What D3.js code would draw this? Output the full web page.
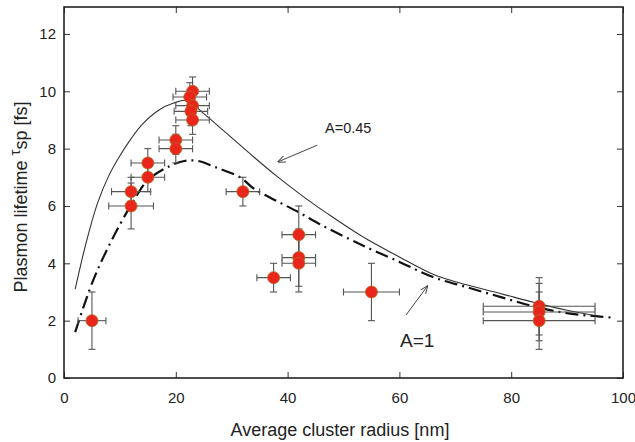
<!DOCTYPE html>
<html><head><meta charset="utf-8">
<script src="https://cdn.jsdelivr.net/npm/d3@7"></script>
<style>body{margin:0;background:#fff}svg{display:block}text{font-family:"Liberation Sans",Arial,sans-serif;fill:#222}</style>
</head><body><svg id="c" width="635" height="442"></svg>
<script>
const xs   = [5, 12, 12, 15, 15, 20, 20, 23, 22.5, 23, 22.7, 23, 32, 37.5, 42, 42, 42, 55, 85, 85, 85];
const ys   = [2.0, 6.5, 6.0, 7.5, 7.0, 8.3, 8.0, 10.0, 9.8, 9.5, 9.3, 9.0, 6.5, 3.5, 5.0, 4.2, 4.0, 3.0, 2.5, 2.3, 2.0];
const xErr = [2.5, 3.5, 4, 3, 3, 3, 3, 3, 3, 3, 3, 3, 3, 3, 3, 3, 3, 5, 10, 10, 10];
const yErr = [1.0, 0.5, 0.8, 0.5, 0.5, 0.5, 0.5, 0.5, 0.5, 0.5, 0.5, 0.5, 0.5, 0.5, 1.0, 1.0, 1.0, 1.0, 1.0, 1.0, 1.0];

const solidX = [2, 4, 6, 8, 10, 12, 14, 17, 19.5, 22, 25, 29, 34, 38, 43, 47, 53, 60, 66, 72, 78, 84, 90, 96];
const solidY = [3.1, 4.75, 6.1, 7.05, 7.75, 8.35, 8.85, 9.35, 9.58, 9.68, 9.22, 8.55, 7.7, 7.05, 6.3, 5.75, 4.98, 4.22, 3.62, 3.25, 2.95, 2.64, 2.36, 2.14];
const dashX  = [2, 5, 7.5, 10, 12.5, 15, 19, 21.5, 24, 27, 31.5, 34, 38, 42, 46, 51, 54, 60, 66, 72, 78, 84, 90, 98.6];
const dashY  = [1.6, 3.3, 4.4, 5.35, 6.2, 6.9, 7.4, 7.57, 7.57, 7.36, 7.0, 6.6, 6.18, 5.78, 5.34, 4.85, 4.57, 4.05, 3.52, 3.17, 2.83, 2.5, 2.26, 2.1];

const xTicks = [0, 20, 40, 60, 80, 100];
const yTicks = [0, 2, 4, 6, 8, 10, 12];

const svg = d3.select("#c");
const L = 64, R = 623, T = 7, B = 378;
const x = d3.scaleLinear().domain([0, 100]).range([L, R]);
const y = d3.scaleLinear().domain([0, 12.94]).range([B, T]);

// axes (inward ticks)
const ax = svg.append("g");
ax.append("g").attr("transform", `translate(0,${B})`)
  .call(d3.axisBottom(x).tickValues(xTicks).tickSizeInner(-6).tickSizeOuter(0).tickPadding(14))
  .call(g => { g.select(".domain").remove(); g.selectAll("text").attr("font-size", 15).attr("fill", "#222"); g.selectAll("line").attr("stroke", "#333"); });
ax.append("g").attr("transform", `translate(0,${T})`)
  .call(d3.axisTop(x).tickValues(xTicks).tickSizeInner(-6).tickSizeOuter(0).tickFormat(""))
  .call(g => { g.select(".domain").remove(); g.selectAll("line").attr("stroke", "#333"); });
ax.append("g").attr("transform", `translate(${L},0)`)
  .call(d3.axisLeft(y).tickValues(yTicks).tickSizeInner(-6).tickSizeOuter(0).tickPadding(8))
  .call(g => { g.select(".domain").remove(); g.selectAll("text").attr("font-size", 15).attr("fill", "#222"); g.selectAll("line").attr("stroke", "#333"); });
ax.append("g").attr("transform", `translate(${R},0)`)
  .call(d3.axisRight(y).tickValues(yTicks).tickSizeInner(-6).tickSizeOuter(0).tickFormat(""))
  .call(g => { g.select(".domain").remove(); g.selectAll("line").attr("stroke", "#333"); });
svg.append("rect").attr("x", L).attr("y", T).attr("width", R - L).attr("height", B - T)
  .attr("fill", "none").attr("stroke", "#222").attr("stroke-width", 1.6);

// curves
const line = d3.line().x(d => x(d[0])).y(d => y(d[1])).curve(d3.curveCatmullRom.alpha(0.5));
svg.append("path").attr("d", line(d3.zip(solidX, solidY)))
  .attr("fill", "none").attr("stroke", "#333").attr("stroke-width", 1.1);
svg.append("path").attr("d", line(d3.zip(dashX, dashY)))
  .attr("fill", "none").attr("stroke", "#111").attr("stroke-width", 2.2)
  .attr("stroke-dasharray", "13,5,2,5");

// error bars
const eb = svg.append("g").attr("stroke", "#555").attr("stroke-width", 1.1);
const cap = 3.5;
xs.forEach((xv, i) => {
  const cx = x(xv), cy = y(ys[i]);
  const x0 = x(xv - xErr[i]), x1 = x(xv + xErr[i]);
  const y0 = y(ys[i] - yErr[i]), y1 = y(ys[i] + yErr[i]);
  eb.append("line").attr("x1", x0).attr("x2", x1).attr("y1", cy).attr("y2", cy);
  eb.append("line").attr("x1", x0).attr("x2", x0).attr("y1", cy - cap).attr("y2", cy + cap);
  eb.append("line").attr("x1", x1).attr("x2", x1).attr("y1", cy - cap).attr("y2", cy + cap);
  eb.append("line").attr("x1", cx).attr("x2", cx).attr("y1", y0).attr("y2", y1);
  eb.append("line").attr("x1", cx - cap).attr("x2", cx + cap).attr("y1", y0).attr("y2", y0);
  eb.append("line").attr("x1", cx - cap).attr("x2", cx + cap).attr("y1", y1).attr("y2", y1);
});

// markers
svg.append("g").selectAll("circle").data(d3.zip(xs, ys)).join("circle")
  .attr("cx", d => x(d[0])).attr("cy", d => y(d[1])).attr("r", 6)
  .attr("fill", "#e8261c").attr("stroke", "#b5651d").attr("stroke-width", 0.8);

// annotations
const defs = svg.append("defs");
defs.append("marker").attr("id", "ah").attr("viewBox", "0 0 10 10").attr("refX", 9).attr("refY", 5)
  .attr("markerWidth", 8).attr("markerHeight", 8).attr("orient", "auto")
  .append("path").attr("d", "M0,1 L10,5 L0,9").attr("fill", "none").attr("stroke", "#444").attr("stroke-width", 1.2);
svg.append("text").attr("x", 325).attr("y", 133).attr("font-size", 14.5).text("A=0.45");
svg.append("line").attr("x1", x(45.3)).attr("y1", y(8.12)).attr("x2", x(38.3)).attr("y2", y(7.54))
  .attr("stroke", "#444").attr("stroke-width", 1).attr("marker-end", "url(#ah)");
svg.append("text").attr("x", 400).attr("y", 347).attr("font-size", 19).text("A=1");
svg.append("line").attr("x1", x(61.2)).attr("y1", y(2.2)).attr("x2", x(65)).attr("y2", y(3.2))
  .attr("stroke", "#444").attr("stroke-width", 1).attr("marker-end", "url(#ah)");

// axis titles
svg.append("text").attr("x", 340).attr("y", 436).attr("text-anchor", "middle")
  .attr("font-size", 18).text("Average cluster radius [nm]");
const yt = svg.append("text").attr("transform", `translate(27,197) rotate(-90)`)
  .attr("text-anchor", "middle").attr("font-size", 18);
yt.append("tspan").text("Plasmon lifetime ");
yt.append("tspan").attr("dy", -7).attr("font-size", 15).text("τ");
yt.append("tspan").attr("dy", 7).text("sp [fs]");
</script></body></html>
